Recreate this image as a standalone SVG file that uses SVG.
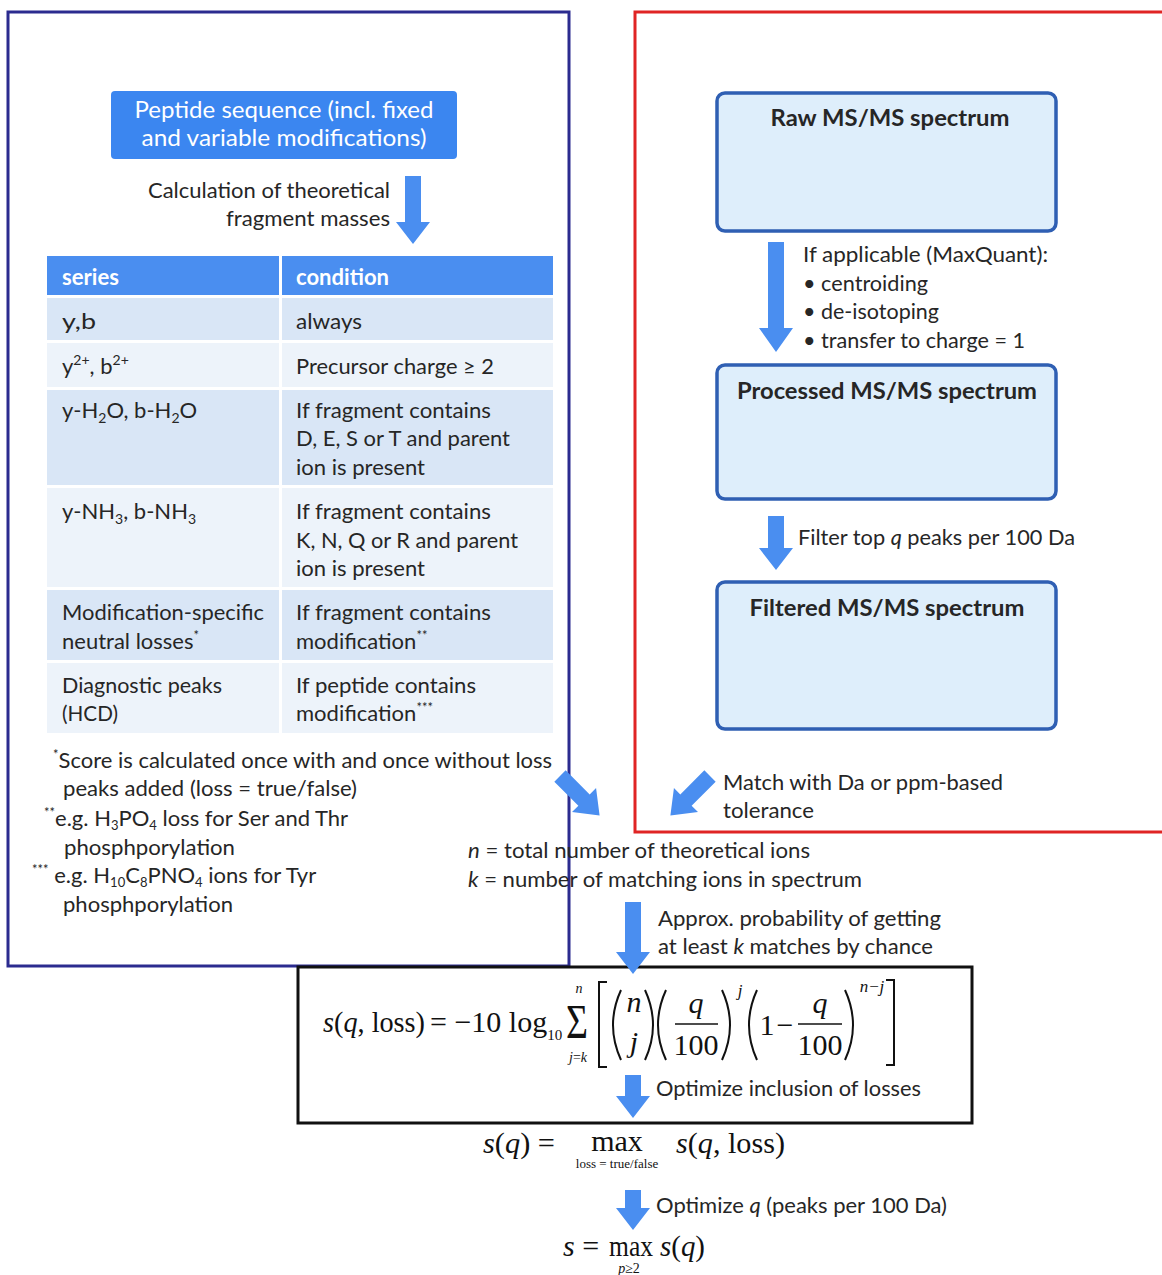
<svg xmlns="http://www.w3.org/2000/svg" width="1162" height="1275" viewBox="0 0 1162 1275">
<defs>
<style>
.t{font-family:Lato,"Open Sans","Liberation Sans",sans-serif;font-size:22px;fill:#262626}
.w{fill:#ffffff}
.b{font-weight:bold}
.m{font-family:"Liberation Serif","Times New Roman",serif;font-size:30px;fill:#111}
.s17{font-size:17px}
.s15{font-size:15px}
.s14{font-size:14px}
.s13{font-size:13px}
.s23{font-size:23px}
.big{font-size:48px}
.i{font-style:italic}
.arrow{fill:#4a8ef0}
.dark{fill:#d9e6f6}
.light{fill:#edf3fa}
.spec{fill:#deeefb;stroke:#2f5fb3;stroke-width:3.5}
.del{fill:none;stroke:#111;stroke-width:2}
</style>
<path id="diag" d="M0,-8 H34 V-17 L56,0 L34,17 V8 H0 Z"/>
</defs>
<rect width="1162" height="1275" fill="#fff"/>

<!-- frames -->
<rect x="8" y="12" width="561" height="954" fill="none" stroke="#2b2b8f" stroke-width="3"/>
<rect x="635" y="12" width="600" height="820" fill="none" stroke="#e02424" stroke-width="3"/>

<!-- peptide node -->
<g id="peptide">
<rect x="111" y="91" width="346" height="68" rx="4" fill="#3b86f0"/>
<text class="t w s23" x="284" y="118" text-anchor="middle" textLength="299" lengthAdjust="spacingAndGlyphs">Peptide sequence (incl. fixed</text>
<text class="t w s23" x="284" y="146" text-anchor="middle" textLength="285" lengthAdjust="spacingAndGlyphs">and variable modifications)</text>
</g>

<!-- table -->
<g id="table">
<rect x="47" y="256" width="232" height="39" fill="#4a8ef0"/>
<rect x="282" y="256" width="271" height="39" fill="#4a8ef0"/>
<rect class="dark" x="47" y="298" width="232" height="42"/><rect class="dark" x="282" y="298" width="271" height="42"/>
<rect class="light" x="47" y="343" width="232" height="44"/><rect class="light" x="282" y="343" width="271" height="44"/>
<rect class="dark" x="47" y="390" width="232" height="95"/><rect class="dark" x="282" y="390" width="271" height="95"/>
<rect class="light" x="47" y="488" width="232" height="99"/><rect class="light" x="282" y="488" width="271" height="99"/>
<rect class="dark" x="47" y="590" width="232" height="70"/><rect class="dark" x="282" y="590" width="271" height="70"/>
<rect class="light" x="47" y="663" width="232" height="70"/><rect class="light" x="282" y="663" width="271" height="70"/>

<text class="t w b" x="62" y="285" textLength="57" lengthAdjust="spacingAndGlyphs">series</text>
<text class="t w b" x="296" y="285" textLength="93" lengthAdjust="spacingAndGlyphs">condition</text>

<text class="t" x="62" y="329" textLength="34" lengthAdjust="spacingAndGlyphs">y,b</text>
<text class="t" x="296" y="329" textLength="66" lengthAdjust="spacingAndGlyphs">always</text>

<text class="t" x="62" y="374">y<tspan font-size="14" dy="-9">2+</tspan><tspan dy="9">, b</tspan><tspan font-size="14" dy="-9">2+</tspan></text>
<text class="t" x="296" y="374" textLength="198" lengthAdjust="spacingAndGlyphs">Precursor charge ≥ 2</text>

<text class="t" x="62" y="418">y-H<tspan font-size="14" dy="5">2</tspan><tspan dy="-5">O, b-H</tspan><tspan font-size="14" dy="5">2</tspan><tspan dy="-5">O</tspan></text>
<text class="t" x="296" y="418" textLength="195" lengthAdjust="spacingAndGlyphs">If fragment contains</text>
<text class="t" x="296" y="446" textLength="214" lengthAdjust="spacingAndGlyphs">D, E, S or T and parent</text>
<text class="t" x="296" y="475" textLength="129" lengthAdjust="spacingAndGlyphs">ion is present</text>

<text class="t" x="62" y="519">y-NH<tspan font-size="14" dy="5">3</tspan><tspan dy="-5">, b-NH</tspan><tspan font-size="14" dy="5">3</tspan></text>
<text class="t" x="296" y="519" textLength="195" lengthAdjust="spacingAndGlyphs">If fragment contains</text>
<text class="t" x="296" y="548" textLength="222" lengthAdjust="spacingAndGlyphs">K, N, Q or R and parent</text>
<text class="t" x="296" y="576" textLength="129" lengthAdjust="spacingAndGlyphs">ion is present</text>

<text class="t" x="62" y="620" textLength="202" lengthAdjust="spacingAndGlyphs">Modification-specific</text>
<text class="t" x="62" y="649">neutral losses<tspan font-size="13" dy="-9">*</tspan></text>
<text class="t" x="296" y="620" textLength="195" lengthAdjust="spacingAndGlyphs">If fragment contains</text>
<text class="t" x="296" y="649">modification<tspan font-size="13" dy="-9">**</tspan></text>

<text class="t" x="62" y="693" textLength="160" lengthAdjust="spacingAndGlyphs">Diagnostic peaks</text>
<text class="t" x="62" y="721" textLength="56" lengthAdjust="spacingAndGlyphs">(HCD)</text>
<text class="t" x="296" y="693" textLength="180" lengthAdjust="spacingAndGlyphs">If peptide contains</text>
<text class="t" x="296" y="721">modification<tspan font-size="13" dy="-9">***</tspan></text>
</g>

<g id="calc-label">
<text class="t" x="390" y="198" text-anchor="end" textLength="242" lengthAdjust="spacingAndGlyphs">Calculation of theoretical</text>
<text class="t" x="390" y="226" text-anchor="end" textLength="164" lengthAdjust="spacingAndGlyphs">fragment masses</text>
</g>

<!-- footnotes -->
<g id="footnotes">
<text class="t" x="53" y="768"><tspan font-size="13" dy="-9">*</tspan><tspan dy="9">Score is calculated once with and once without loss</tspan></text>
<text class="t" x="63" y="796" textLength="294" lengthAdjust="spacingAndGlyphs">peaks added (loss = true/false)</text>
<text class="t" x="44" y="826"><tspan font-size="13" dy="-9">**</tspan><tspan dy="9">e.g. H</tspan><tspan font-size="13" dy="4">3</tspan><tspan dy="-4">PO</tspan><tspan font-size="13" dy="4">4</tspan><tspan dy="-4"> loss for Ser and Thr</tspan></text>
<text class="t" x="64" y="855" textLength="171" lengthAdjust="spacingAndGlyphs">phosphporylation</text>
<text class="t" x="32" y="883"><tspan font-size="13" dy="-9">***</tspan><tspan dy="9"> e.g. H</tspan><tspan font-size="13" dy="4">10</tspan><tspan dy="-4">C</tspan><tspan font-size="13" dy="4">8</tspan><tspan dy="-4">PNO</tspan><tspan font-size="13" dy="4">4</tspan><tspan dy="-4"> ions for Tyr</tspan></text>
<text class="t" x="63" y="912" textLength="170" lengthAdjust="spacingAndGlyphs">phosphporylation</text>
</g>

<!-- spectrum nodes -->
<g id="raw">
<rect class="spec" x="717" y="93" width="339" height="138" rx="8"/>
<text class="t b" x="890" y="126" text-anchor="middle" textLength="239" lengthAdjust="spacingAndGlyphs">Raw MS/MS spectrum</text>
</g>
<g id="processed">
<rect class="spec" x="717" y="365" width="339" height="134" rx="8"/>
<text class="t b" x="887" y="399" text-anchor="middle" textLength="300" lengthAdjust="spacingAndGlyphs">Processed MS/MS spectrum</text>
</g>
<g id="filtered">
<rect class="spec" x="717" y="582" width="339" height="147" rx="8"/>
<text class="t b" x="887" y="616" text-anchor="middle" textLength="275" lengthAdjust="spacingAndGlyphs">Filtered MS/MS spectrum</text>
</g>

<g id="raw-label">
<text class="t" x="803" y="262" textLength="245" lengthAdjust="spacingAndGlyphs">If applicable (MaxQuant):</text>
<text class="t" x="803" y="291" textLength="125" lengthAdjust="spacingAndGlyphs">• centroiding</text>
<text class="t" x="803" y="319" textLength="136" lengthAdjust="spacingAndGlyphs">• de-isotoping</text>
<text class="t" x="803" y="348" textLength="222" lengthAdjust="spacingAndGlyphs">• transfer to charge = 1</text>
</g>
<g id="filter-label">
<text class="t" x="798" y="545" textLength="277" lengthAdjust="spacingAndGlyphs">Filter top <tspan class="i">q</tspan> peaks per 100 Da</text>
</g>
<g id="match-label">
<text class="t" x="723" y="790" textLength="280" lengthAdjust="spacingAndGlyphs">Match with Da or ppm-based</text>
<text class="t" x="723" y="818" textLength="91" lengthAdjust="spacingAndGlyphs">tolerance</text>
</g>

<g id="definitions">
<text class="t" x="468" y="858" textLength="342" lengthAdjust="spacingAndGlyphs"><tspan class="i">n</tspan> = total number of theoretical ions</text>
<text class="t" x="468" y="887" textLength="394" lengthAdjust="spacingAndGlyphs"><tspan class="i">k</tspan> = number of matching ions in spectrum</text>
</g>
<g id="approx-label">
<text class="t" x="658" y="926" textLength="283" lengthAdjust="spacingAndGlyphs">Approx. probability of getting</text>
<text class="t" x="658" y="954" textLength="275" lengthAdjust="spacingAndGlyphs">at least <tspan class="i">k</tspan> matches by chance</text>
</g>

<!-- score formula box -->
<g id="score">
<rect x="298" y="967" width="674" height="156" fill="none" stroke="#111" stroke-width="3"/>
<text class="m" x="323" y="1032" textLength="102" lengthAdjust="spacingAndGlyphs"><tspan class="i">s</tspan>(<tspan class="i">q</tspan>, loss)</text>
<text class="m" x="430" y="1032">= −10 log<tspan font-size="15" dy="8">10</tspan></text>
<text class="m big" x="577" y="1038" text-anchor="middle" textLength="22" lengthAdjust="spacingAndGlyphs">Σ</text>
<text class="m i s14" x="579" y="993" text-anchor="middle">n</text>
<text class="m s14" x="578" y="1062" text-anchor="middle"><tspan class="i">j</tspan>=<tspan class="i">k</tspan></text>
<path class="del" d="M607,982 H599 V1067 H607"/>
<path class="del" d="M886,980 H894 V1065 H886"/>
<path class="del" d="M621,990 Q605,1025 621,1060"/>
<path class="del" d="M645,990 Q661,1025 645,1060"/>
<path class="del" d="M666,990 Q650,1025 666,1060"/>
<path class="del" d="M722,990 Q738,1025 722,1060"/>
<path class="del" d="M757,990 Q741,1025 757,1060"/>
<path class="del" d="M845,990 Q861,1025 845,1060"/>
<text class="m i" x="634" y="1012" text-anchor="middle">n</text>
<text class="m i" x="634" y="1052" text-anchor="middle">j</text>
<text class="m i" x="696" y="1013" text-anchor="middle">q</text>
<line x1="675" y1="1024" x2="718" y2="1024" stroke="#111" stroke-width="1.5"/>
<text class="m" x="696" y="1055" text-anchor="middle">100</text>
<text class="m i s17" x="740" y="996" text-anchor="middle">j</text>
<text class="m" x="767" y="1035" text-anchor="middle">1</text>
<text class="m" x="785" y="1035" text-anchor="middle">−</text>
<text class="m i" x="820" y="1013" text-anchor="middle">q</text>
<line x1="798" y1="1024" x2="842" y2="1024" stroke="#111" stroke-width="1.5"/>
<text class="m" x="820" y="1055" text-anchor="middle">100</text>
<text class="m i s17" x="872" y="992" text-anchor="middle">n−j</text>
</g>
<g id="inclusion-label">
<text class="t" x="656" y="1096" textLength="265" lengthAdjust="spacingAndGlyphs">Optimize inclusion of losses</text>
</g>

<g id="sq">
<text class="m" x="483" y="1153" textLength="72" lengthAdjust="spacingAndGlyphs"><tspan class="i">s</tspan>(<tspan class="i">q</tspan>) =</text>
<text class="m" x="617" y="1151" text-anchor="middle">max</text>
<text class="m s13" x="617" y="1168" text-anchor="middle">loss = true/false</text>
<text class="m" x="676" y="1153" textLength="109" lengthAdjust="spacingAndGlyphs"><tspan class="i">s</tspan>(<tspan class="i">q</tspan>, loss)</text>
</g>
<g id="q-label">
<text class="t" x="656" y="1213" textLength="291" lengthAdjust="spacingAndGlyphs">Optimize <tspan class="i">q</tspan> (peaks per 100 Da)</text>
</g>
<g id="s">
<text class="m" x="563" y="1256"><tspan class="i">s</tspan> =</text>
<text class="m" x="631" y="1256" text-anchor="middle" textLength="44" lengthAdjust="spacingAndGlyphs">max</text>
<text class="m" x="660" y="1256" textLength="45" lengthAdjust="spacingAndGlyphs"><tspan class="i">s</tspan>(<tspan class="i">q</tspan>)</text>
<text class="m s14" x="629" y="1273" text-anchor="middle"><tspan class="i">p</tspan>≥2</text>
</g>

<!-- connectors -->
<g id="connectors">
<path class="arrow" d="M405,176 H421 V222 H430 L413,244 L396,222 H405 Z"/>
<path class="arrow" d="M768,242 H784 V328 H793 L776,352 L759,328 H768 Z"/>
<path class="arrow" d="M768,516 H784 V548 H793 L776,570 L759,548 H768 Z"/>
<use href="#diag" class="arrow" transform="translate(560,776) rotate(45)"/>
<use href="#diag" class="arrow" transform="translate(710,776) rotate(135)"/>
<path class="arrow" d="M625,902 H641 V952 H650 L633,974 L616,952 H625 Z"/>
<path class="arrow" d="M625,1075 H641 V1096 H650 L633,1118 L616,1096 H625 Z"/>
<path class="arrow" d="M625,1190 H641 V1208 H650 L633,1230 L616,1208 H625 Z"/>
</g>
</svg>
